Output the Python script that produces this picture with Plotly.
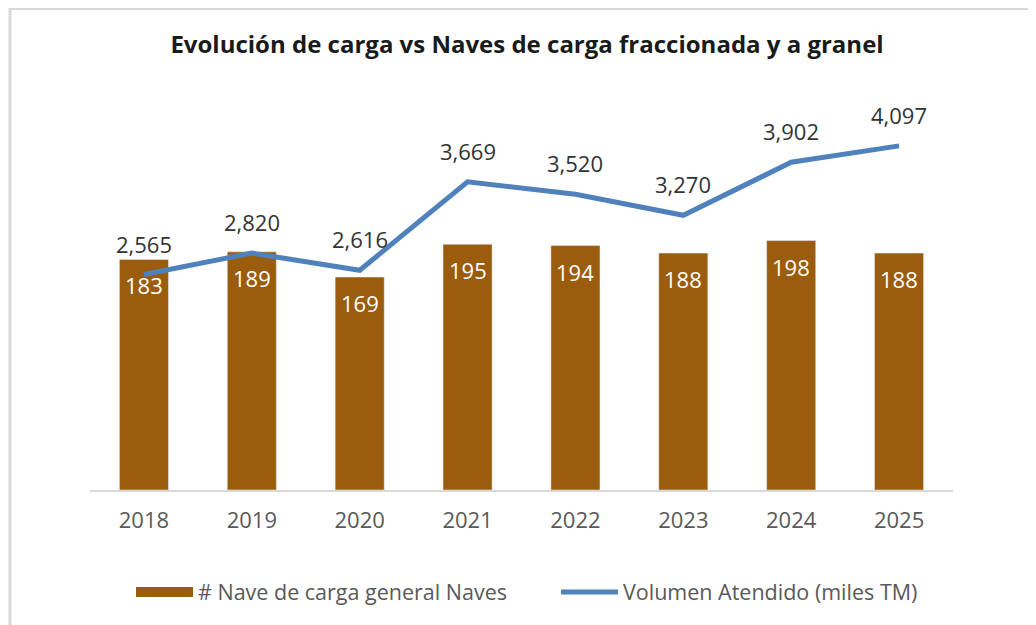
import plotly.graph_objects as go

years = ["2018", "2019", "2020", "2021", "2022", "2023", "2024", "2025"]
naves = [183, 189, 169, 195, 194, 188, 198, 188]
volumen = [2565, 2820, 2616, 3669, 3520, 3270, 3902, 4097]

title_text = "Evolución de carga vs Naves de carga fraccionada y a granel"
bar_name = "# Nave de carga general Naves"
line_name = "Volumen Atendido (miles TM)"

BAR_COLOR = "#9A5D0D"
LINE_COLOR = "#4F81BD"
FONT = "Open Sans"

fig = go.Figure()
fig.add_trace(go.Bar(
    x=years, y=naves, name=bar_name, marker_color=BAR_COLOR,
    width=0.455, yaxis="y", showlegend=False,
))
# legend key for the bars drawn as a wide rectangle (no data drawn)
fig.add_trace(go.Scatter(
    x=[None], y=[None], name=bar_name, mode="lines",
    line=dict(color=BAR_COLOR, width=12), yaxis="y", showlegend=True,
))
fig.add_trace(go.Scatter(
    x=years, y=volumen, name=line_name, mode="lines",
    line=dict(color=LINE_COLOR, width=5), yaxis="y2",
))

# category axis: annotations are placed by category index
annotations = []
for i, v in enumerate(naves):
    annotations.append(dict(x=i, y=v, xref="x", yref="y", text=str(v),
                            showarrow=False, yshift=-26,
                            font=dict(family=FONT, size=22, color="white")))
for i, v in enumerate(volumen):
    annotations.append(dict(x=i, y=v, xref="x", yref="y2", text=f"{v:,}",
                            showarrow=False, yshift=31,
                            font=dict(family=FONT, size=22, color="#333333")))

fig.update_layout(
    width=1036, height=625,
    margin=dict(l=82, r=91, t=104, b=143),
    paper_bgcolor="white", plot_bgcolor="white",
    font=dict(family=FONT, color="#595959"),
    title=dict(text="<b>" + title_text + "</b>", x=0.501, xref="container",
               y=0.9408, yref="container", xanchor="center", yanchor="middle",
               font=dict(family=FONT, size=24, color="#1a1a1a")),
    xaxis=dict(type="category", range=[-0.5, 7.5], showline=True,
               linecolor="#D9D9D9", linewidth=2,
               ticks="", ticklabelstandoff=10,
               tickfont=dict(family=FONT, size=22, color="#595959"),
               showgrid=False),
    yaxis=dict(range=[0, 300], visible=False, showgrid=False),
    yaxis2=dict(range=[0, 4500], overlaying="y", side="right",
                visible=False, showgrid=False),
    showlegend=True,
    legend=dict(orientation="h", x=0.0475, xanchor="left", y=-0.27,
                yanchor="middle", font=dict(family=FONT, size=21.5, color="#595959"),
                itemwidth=57, entrywidth=353, traceorder="normal"),
    annotations=annotations,
    shapes=[
        dict(type="line", xref="paper", yref="paper", x0=-0.093, x1=1.2,
             y0=1.274, y1=1.274, line=dict(color="#D9D9D9", width=3)),
        dict(type="line", xref="paper", yref="paper", x0=-0.0927, x1=-0.0927,
             y0=1.28, y1=-0.4, line=dict(color="#D9D9D9", width=3)),
    ],
)

fig.write_html("out.html")
